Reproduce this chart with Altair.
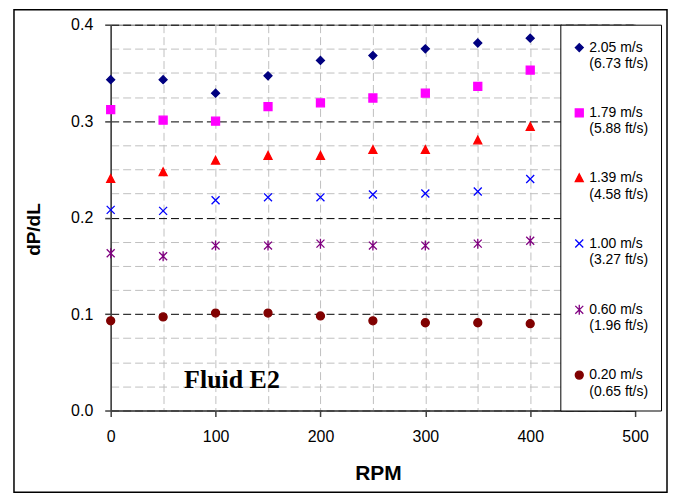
import altair as alt
import pandas as pd

rpm = [0, 50, 100, 150, 200, 250, 300, 350, 400]

series_names = [
    "2.05 m/s|(6.73 ft/s)",
    "1.79 m/s|(5.88 ft/s)",
    "1.39 m/s|(4.58 ft/s)",
    "1.00 m/s|(3.27 ft/s)",
    "0.60 m/s|(1.96 ft/s)",
    "0.20 m/s|(0.65 ft/s)",
]
v205 = [0.343, 0.343, 0.329, 0.347, 0.363, 0.368, 0.375, 0.381, 0.386]
v179 = [0.312, 0.301, 0.300, 0.315, 0.319, 0.324, 0.329, 0.336, 0.353]
v139 = [0.240, 0.247, 0.259, 0.264, 0.264, 0.270, 0.270, 0.280, 0.294]
v100 = [0.208, 0.207, 0.218, 0.221, 0.221, 0.224, 0.225, 0.227, 0.240]
v060 = [0.163, 0.160, 0.171, 0.171, 0.173, 0.171, 0.171, 0.173, 0.176]
v020 = [0.093, 0.097, 0.101, 0.101, 0.098, 0.093, 0.091, 0.091, 0.090]
series_values = [v205, v179, v139, v100, v060, v020]

colors = ["#000080", "#FF00FF", "#FF0000", "#0000FF", "#800080", "#800000"]
shapes = [
    "diamond",
    "square",
    "M0,-1.1L-1,0.85L1,0.85Z",
    "M-1,-1L1,1M-1,1L1,-1",
    "M-1,-1L1,1M-1,1L1,-1M0,-1.25L0,1.25",
    "circle",
]

x_ticks = [0, 50, 100, 150, 200, 250, 300, 350, 400, 450, 500]
y_ticks = [0.0, 0.025, 0.05, 0.075, 0.1, 0.125, 0.15, 0.175, 0.2,
           0.225, 0.25, 0.275, 0.3, 0.325, 0.35, 0.375, 0.4]

anno_text = ["Fluid E2"]
anno_x = [70]
anno_y = [0.023]

rows = []
for name, vals in zip(series_names, series_values):
    for r, v in zip(rpm, vals):
        rows.append({"RPM": r, "dPdL": v, "series": name})
df = pd.DataFrame(rows)

W, H = 526, 387

major_y = "abs(datum.value*10 - round(datum.value*10)) < 0.000001"
major_x = "datum.value % 100 == 0"

xenc = alt.X(
    "RPM:Q",
    scale=alt.Scale(domain=[0, 500], nice=False),
    axis=alt.Axis(
        values=x_ticks,
        tickCount=20,
        title="RPM",
        labelExpr=f"({major_x}) ? datum.label : ''",
        labelFlush=False,
        tickOpacity={"condition": {"test": major_x, "value": 1}, "value": 0},
        grid=True,
        gridColor="#c0c0c0",
        gridDash=[8, 4],
        gridWidth=1,
        domainColor="#404040",
        domainWidth=1.5,
        tickColor="#404040",
        tickWidth=1.5,
        tickSize=6,
        labelFontSize=16,
        labelPadding=12,
        labelColor="black",
        titleFontSize=21,
        titleFontWeight="bold",
        titleColor="black",
        titleX=268,
        titleY=63,
        titleBaseline="middle",
    ),
)
yenc = alt.Y(
    "dPdL:Q",
    scale=alt.Scale(domain=[0, 0.4], nice=False),
    axis=alt.Axis(
        values=y_ticks,
        tickCount=40,
        format=".1f",
        title="dP/dL",
        labelExpr=f"({major_y}) ? datum.label : ''",
        labelFlush=False,
        tickOpacity={"condition": {"test": major_y, "value": 1}, "value": 0},
        grid=True,
        gridColor={"condition": {"test": major_y, "value": "#000000"}, "value": "#c0c0c0"},
        gridDash=[8, 4],
        gridWidth=1,
        domainColor="#404040",
        domainWidth=1.5,
        tickColor="#404040",
        tickWidth=1.5,
        tickSize=6,
        labelFontSize=16,
        labelPadding=12,
        labelColor="black",
        titleFontSize=19,
        titleFontWeight="bold",
        titleColor="black",
        titleX=-77,
        titleY=205,
        titleBaseline="middle",
        titleAlign="center",
    ),
)

legend = alt.Legend(
    title=" ",
    titleFontSize=1,
    titlePadding=3,
    orient="none",
    legendX=451,
    legendY=0,
    strokeColor="black",
    fillColor="white",
    padding=12,
    rowPadding=34.5,
    labelExpr="split(datum.label, '|')",
    labelFontSize=14,
    labelColor="black",
    labelOffset=3,
    symbolSize=64,
    symbolStrokeWidth=1.3,
)

points = alt.Chart(df).mark_point(filled=True, size=64, strokeWidth=1.3, opacity=1).encode(
    x=xenc,
    y=yenc,
    fill=alt.Fill("series:N", scale=alt.Scale(domain=series_names, range=colors), legend=legend),
    stroke=alt.Stroke("series:N", scale=alt.Scale(domain=series_names, range=colors), legend=legend),
    shape=alt.Shape("series:N", scale=alt.Scale(domain=series_names, range=shapes), legend=legend),
)

anno_df = pd.DataFrame({"text": anno_text, "x": anno_x, "y": anno_y})
anno = alt.Chart(anno_df).mark_text(
    font="Liberation Serif", fontSize=26, fontWeight="bold", align="left",
    baseline="alphabetic", color="black",
).encode(x="x:Q", y="y:Q", text="text:N")

frame = alt.Chart(alt.Data(values=[{}])).mark_rect(
    fill=None, fillOpacity=0, stroke="black", strokeWidth=1.5
).encode(
    x=alt.value(-97), x2=alt.value(558), y=alt.value(-15), y2=alt.value(469)
)

chart = alt.layer(frame, points, anno).properties(
    width=W, height=H,
    padding={"left": 5, "top": 0, "right": 0, "bottom": 0},
).configure(
    font="Liberation Sans",
    style={"guide-label": {"lineHeight": 16.5}},
).configure_view(
    stroke="#606060", strokeWidth=1,
)

chart.save("out.html", embed_options={"renderer": "svg", "actions": False})
